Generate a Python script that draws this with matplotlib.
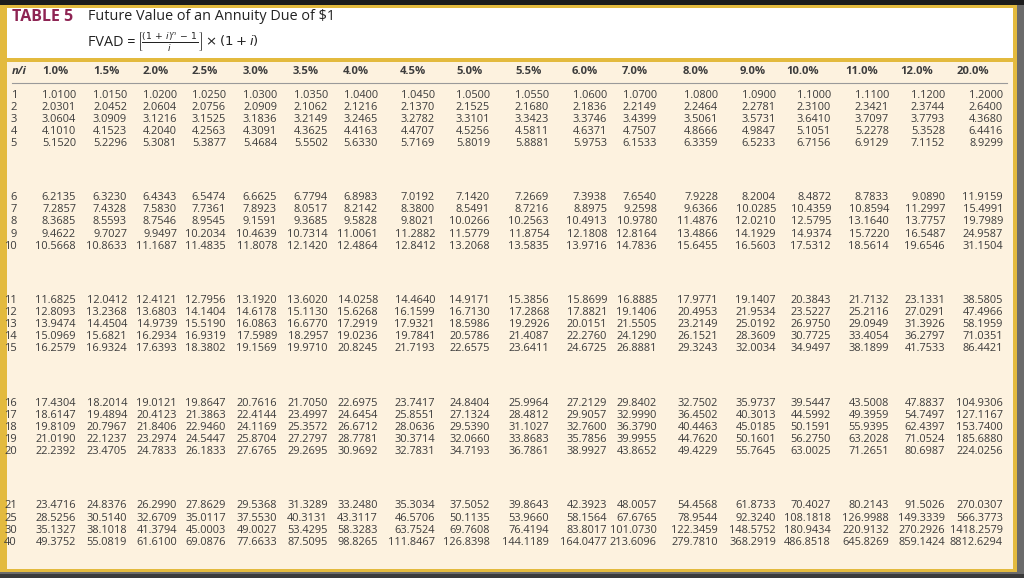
import matplotlib
matplotlib.use("Agg")
import matplotlib.pyplot as plt
from matplotlib.patches import Rectangle

# ---------------- data ----------------
rates = ["1.0%", "1.5%", "2.0%", "2.5%", "3.0%", "3.5%", "4.0%", "4.5%", "5.0%",
         "5.5%", "6.0%", "7.0%", "8.0%", "9.0%", "10.0%", "11.0%", "12.0%", "20.0%"]
periods = [1, 2, 3, 4, 5, 6, 7, 8, 9, 10, 11, 12, 13, 14, 15, 16, 17, 18, 19, 20, 21, 25, 30, 40]

r_1_0 = [1.0100, 2.0301, 3.0604, 4.1010, 5.1520, 6.2135, 7.2857, 8.3685, 9.4622, 10.5668, 11.6825, 12.8093, 13.9474, 15.0969, 16.2579, 17.4304, 18.6147, 19.8109, 21.0190, 22.2392, 23.4716, 28.5256, 35.1327, 49.3752]
r_1_5 = [1.0150, 2.0452, 3.0909, 4.1523, 5.2296, 6.3230, 7.4328, 8.5593, 9.7027, 10.8633, 12.0412, 13.2368, 14.4504, 15.6821, 16.9324, 18.2014, 19.4894, 20.7967, 22.1237, 23.4705, 24.8376, 30.5140, 38.1018, 55.0819]
r_2_0 = [1.0200, 2.0604, 3.1216, 4.2040, 5.3081, 6.4343, 7.5830, 8.7546, 9.9497, 11.1687, 12.4121, 13.6803, 14.9739, 16.2934, 17.6393, 19.0121, 20.4123, 21.8406, 23.2974, 24.7833, 26.2990, 32.6709, 41.3794, 61.6100]
r_2_5 = [1.0250, 2.0756, 3.1525, 4.2563, 5.3877, 6.5474, 7.7361, 8.9545, 10.2034, 11.4835, 12.7956, 14.1404, 15.5190, 16.9319, 18.3802, 19.8647, 21.3863, 22.9460, 24.5447, 26.1833, 27.8629, 35.0117, 45.0003, 69.0876]
r_3_0 = [1.0300, 2.0909, 3.1836, 4.3091, 5.4684, 6.6625, 7.8923, 9.1591, 10.4639, 11.8078, 13.1920, 14.6178, 16.0863, 17.5989, 19.1569, 20.7616, 22.4144, 24.1169, 25.8704, 27.6765, 29.5368, 37.5530, 49.0027, 77.6633]
r_3_5 = [1.0350, 2.1062, 3.2149, 4.3625, 5.5502, 6.7794, 8.0517, 9.3685, 10.7314, 12.1420, 13.6020, 15.1130, 16.6770, 18.2957, 19.9710, 21.7050, 23.4997, 25.3572, 27.2797, 29.2695, 31.3289, 40.3131, 53.4295, 87.5095]
r_4_0 = [1.0400, 2.1216, 3.2465, 4.4163, 5.6330, 6.8983, 8.2142, 9.5828, 11.0061, 12.4864, 14.0258, 15.6268, 17.2919, 19.0236, 20.8245, 22.6975, 24.6454, 26.6712, 28.7781, 30.9692, 33.2480, 43.3117, 58.3283, 98.8265]
r_4_5 = [1.0450, 2.1370, 3.2782, 4.4707, 5.7169, 7.0192, 8.3800, 9.8021, 11.2882, 12.8412, 14.4640, 16.1599, 17.9321, 19.7841, 21.7193, 23.7417, 25.8551, 28.0636, 30.3714, 32.7831, 35.3034, 46.5706, 63.7524, 111.8467]
r_5_0 = [1.0500, 2.1525, 3.3101, 4.5256, 5.8019, 7.1420, 8.5491, 10.0266, 11.5779, 13.2068, 14.9171, 16.7130, 18.5986, 20.5786, 22.6575, 24.8404, 27.1324, 29.5390, 32.0660, 34.7193, 37.5052, 50.1135, 69.7608, 126.8398]
r_5_5 = [1.0550, 2.1680, 3.3423, 4.5811, 5.8881, 7.2669, 8.7216, 10.2563, 11.8754, 13.5835, 15.3856, 17.2868, 19.2926, 21.4087, 23.6411, 25.9964, 28.4812, 31.1027, 33.8683, 36.7861, 39.8643, 53.9660, 76.4194, 144.1189]
r_6_0 = [1.0600, 2.1836, 3.3746, 4.6371, 5.9753, 7.3938, 8.8975, 10.4913, 12.1808, 13.9716, 15.8699, 17.8821, 20.0151, 22.2760, 24.6725, 27.2129, 29.9057, 32.7600, 35.7856, 38.9927, 42.3923, 58.1564, 83.8017, 164.0477]
r_7_0 = [1.0700, 2.2149, 3.4399, 4.7507, 6.1533, 7.6540, 9.2598, 10.9780, 12.8164, 14.7836, 16.8885, 19.1406, 21.5505, 24.1290, 26.8881, 29.8402, 32.9990, 36.3790, 39.9955, 43.8652, 48.0057, 67.6765, 101.0730, 213.6096]
r_8_0 = [1.0800, 2.2464, 3.5061, 4.8666, 6.3359, 7.9228, 9.6366, 11.4876, 13.4866, 15.6455, 17.9771, 20.4953, 23.2149, 26.1521, 29.3243, 32.7502, 36.4502, 40.4463, 44.7620, 49.4229, 54.4568, 78.9544, 122.3459, 279.7810]
r_9_0 = [1.0900, 2.2781, 3.5731, 4.9847, 6.5233, 8.2004, 10.0285, 12.0210, 14.1929, 16.5603, 19.1407, 21.9534, 25.0192, 28.3609, 32.0034, 35.9737, 40.3013, 45.0185, 50.1601, 55.7645, 61.8733, 92.3240, 148.5752, 368.2919]
r_10_0 = [1.1000, 2.3100, 3.6410, 5.1051, 6.7156, 8.4872, 10.4359, 12.5795, 14.9374, 17.5312, 20.3843, 23.5227, 26.9750, 30.7725, 34.9497, 39.5447, 44.5992, 50.1591, 56.2750, 63.0025, 70.4027, 108.1818, 180.9434, 486.8518]
r_11_0 = [1.1100, 2.3421, 3.7097, 5.2278, 6.9129, 8.7833, 10.8594, 13.1640, 15.7220, 18.5614, 21.7132, 25.2116, 29.0949, 33.4054, 38.1899, 43.5008, 49.3959, 55.9395, 63.2028, 71.2651, 80.2143, 126.9988, 220.9132, 645.8269]
r_12_0 = [1.1200, 2.3744, 3.7793, 5.3528, 7.1152, 9.0890, 11.2997, 13.7757, 16.5487, 19.6546, 23.1331, 27.0291, 31.3926, 36.2797, 41.7533, 47.8837, 54.7497, 62.4397, 71.0524, 80.6987, 91.5026, 149.3339, 270.2926, 859.1424]
r_20_0 = [1.2000, 2.6400, 4.3680, 6.4416, 8.9299, 11.9159, 15.4991, 19.7989, 24.9587, 31.1504, 38.5805, 47.4966, 58.1959, 71.0351, 86.4421, 104.9306, 127.1167, 153.7400, 185.6880, 224.0256, 270.0307, 566.3773, 1418.2579, 8812.6294]

columns = [r_1_0, r_1_5, r_2_0, r_2_5, r_3_0, r_3_5, r_4_0, r_4_5, r_5_0,
           r_5_5, r_6_0, r_7_0, r_8_0, r_9_0, r_10_0, r_11_0, r_12_0, r_20_0]

title_label = "TABLE 5"
title_text = "Future Value of an Annuity Due of $1"
formula_lhs = "FVAD ="
formula_rhs = r"$\left[\frac{(1\,+\,i)^n\,-\,1}{i}\right]\times(1+i)$"

# ---------------- layout ----------------
W, H = 1024, 578
col_right = [76, 127, 177, 226, 277, 328, 378, 435, 490, 549, 607, 657, 718, 776, 831, 889, 945, 1003]
hdr_left = [42, 93, 143, 192, 243, 293, 343, 400, 456, 515, 572, 622, 683, 740, 786, 845, 900, 957]
n_right = 17
y_hdr = 71
y0, group_step, row_step = 95, 102.75, 12.1

cream = "#FDF2DF"
gold = "#E3BA3E"
ink = "#3c3c3c"
maroon = "#8E2453"

plt.rcParams["font.family"] = ["Open Sans", "DejaVu Sans"]
plt.rcParams["mathtext.fontset"] = "dejavusans"

fig = plt.figure(figsize=(W / 100, H / 100), dpi=100, facecolor="#6b6b6b")
ax = fig.add_axes([0, 0, 1, 1])
ax.set_xlim(0, W)
ax.set_ylim(H, 0)
ax.axis("off")

# frame
ax.add_patch(Rectangle((0, 0), W, 5, facecolor="#1c1c1c", edgecolor="none"))
ax.add_patch(Rectangle((0, 5), 1017, 567, facecolor=gold, edgecolor="none"))
ax.add_patch(Rectangle((7, 8), 1006, 50, facecolor="white", edgecolor="none"))
ax.add_patch(Rectangle((7, 62), 1006, 507, facecolor=cream, edgecolor="none"))
ax.add_patch(Rectangle((0, 574), W, 4, facecolor="#3a3a3a", edgecolor="none"))

# title
ax.text(12, 17, title_label, fontsize=11.5, fontweight="bold", color=maroon,
        ha="left", va="center")
ax.text(88, 17, title_text, fontsize=10.4, color="#222222", ha="left", va="center")
ax.text(88, 42, formula_lhs, fontsize=10.4, color="#222222", ha="left", va="center")
ax.text(137, 42, formula_rhs, fontsize=9.5, color="#222222", ha="left", va="center")

# header row
ax.text(12, y_hdr, "n/i", fontsize=8.1, fontweight="bold", fontstyle="italic",
        color=ink, ha="left", va="center")
for x, lab in zip(hdr_left, rates):
    ax.text(x, y_hdr, lab, fontsize=8.1, fontweight="bold", color=ink,
            ha="left", va="center")
ax.plot([12, 1007], [83, 83], color="#9a9a9a", lw=0.8)

# body
for i, n in enumerate(periods):
    g, r = divmod(i, 5)
    y = y0 + g * group_step + r * row_step
    ax.text(n_right, y, str(n), fontsize=8, color=ink, ha="right", va="center")
    for x, col in zip(col_right, columns):
        ax.text(x, y, f"{col[i]:.4f}", fontsize=7.9, color=ink, ha="right", va="center")

fig.savefig("out.png", dpi=100, facecolor=fig.get_facecolor())
